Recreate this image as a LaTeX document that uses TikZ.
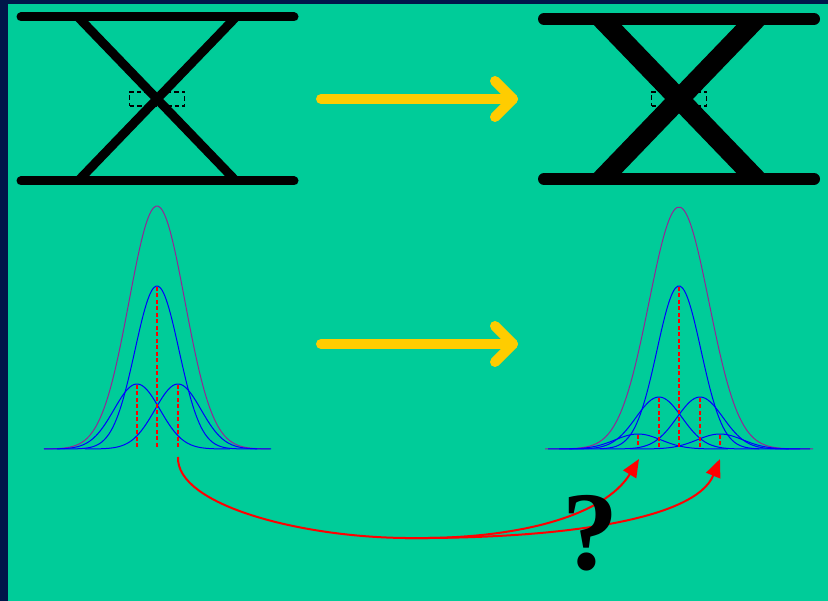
\documentclass[tikz,border=0pt]{standalone}
\usepackage{fontspec}
\newfontfamily\qfont{Liberation Serif}
\usetikzlibrary{arrows.meta}
\definecolor{bgnavy}{HTML}{00164A}
\definecolor{bggreen}{HTML}{00CC99}
\definecolor{arrowyellow}{HTML}{FFCC00}
\definecolor{sumpurple}{HTML}{952595}
\newcommand\gaussc[5]{\draw[#1] plot[domain=-#5:#5, samples=90, smooth] ({#2+\x},{449-#3*exp(-0.5*((\x/#4)*(\x/#4)))});}
\tikzset{
  bar/.style={line width=#1, line cap=round},
  diag/.style={line width=#1, line cap=butt},
  focusbox/.style={draw=black, line width=1.6pt, dash pattern=on 4.5pt off 3pt},
  bigarrow/.style={arrowyellow, line width=10pt, line cap=round, line join=round},
  comp/.style={blue, line width=1pt},
  total/.style={sumpurple, line width=1pt},
  meanline/.style={red, line width=1.6pt, dash pattern=on 4pt off 2.5pt},
  mapcurve/.style={red, line width=2pt, -{Triangle[length=18pt,width=15pt]}},
}
\begin{document}
\begin{tikzpicture}[x=1pt,y=-1pt]
\useasboundingbox (0,0) rectangle (828,601);
\fill[bgnavy] (0,0) rectangle (828,601);
\fill[bggreen] (8,4) rectangle (828,601);

% ---- left X
\draw[bar=9pt] (21,17) -- (294,17);
\draw[bar=9pt] (21,181) -- (294,181);
\draw[diag=9pt] (78,17) -- (236,181);
\draw[diag=9pt] (236,17) -- (78,181);
\node[focusbox, minimum width=55pt, minimum height=14pt, inner sep=0pt] (boxL) at (157,99) {};

% ---- right X
\draw[bar=12pt] (544,19) -- (814,19);
\draw[bar=12pt] (544,179) -- (814,179);
\begin{scope}
\clip (540,19) rectangle (818,181);
\draw[diag=20pt] (600,17) -- (758,181);
\draw[diag=20pt] (758,17) -- (600,181);
\end{scope}
\node[focusbox, minimum width=55pt, minimum height=14pt, inner sep=0pt] (boxR) at (679,99) {};

% ---- yellow arrows
\coordinate (a1s) at (321,99);
\coordinate (a1e) at (513,99);
\draw[bigarrow] (a1s) -- (a1e);
\draw[bigarrow] (495,81) -- (a1e) -- (495,117);
\coordinate (a2s) at (321,344);
\coordinate (a2e) at (513,344);
\draw[bigarrow] (a2s) -- (a2e);
\draw[bigarrow] (495,326) -- (a2e) -- (495,362);

% ---- left gaussians
\gaussc{total}{157}{243}{28}{113}
\gaussc{comp}{157}{163}{22}{100}
\gaussc{comp}{137}{65}{23}{93}
\gaussc{comp}{178}{65}{23}{93}
\draw[meanline] (137,385) -- (137,447);
\draw[meanline] (157,287) -- (157,447);
\draw[meanline] (178,385) -- (178,447);

% ---- right gaussians
\gaussc{total}{679}{242}{30}{134}
\gaussc{comp}{679}{163}{22}{110}
\gaussc{comp}{659}{52}{23}{100}
\gaussc{comp}{700}{52}{23}{100}
\gaussc{comp}{638}{15}{23}{90}
\gaussc{comp}{720}{15}{23}{90}
\draw[meanline] (638,435) -- (638,447);
\draw[meanline] (659,398) -- (659,447);
\draw[meanline] (679,287) -- (679,447);
\draw[meanline] (700,398) -- (700,447);
\draw[meanline] (720,435) -- (720,447);

% ---- red mapping curves
\coordinate (src) at (178,457);
\coordinate (mid) at (405,538);
\coordinate (t1) at (639,459);
\coordinate (t2) at (720,459);
\draw[mapcurve] (src) .. controls (176,505) and (300,537) .. (mid) .. controls (520,540) and (605,515) .. (t1);
\draw[mapcurve] (mid) .. controls (560,539) and (695,520) .. (t2);

\node[font=\qfont\bfseries\fontsize{112}{112}\selectfont, inner sep=0pt] (q) at (590,533) {?};
\end{tikzpicture}
\end{document}
